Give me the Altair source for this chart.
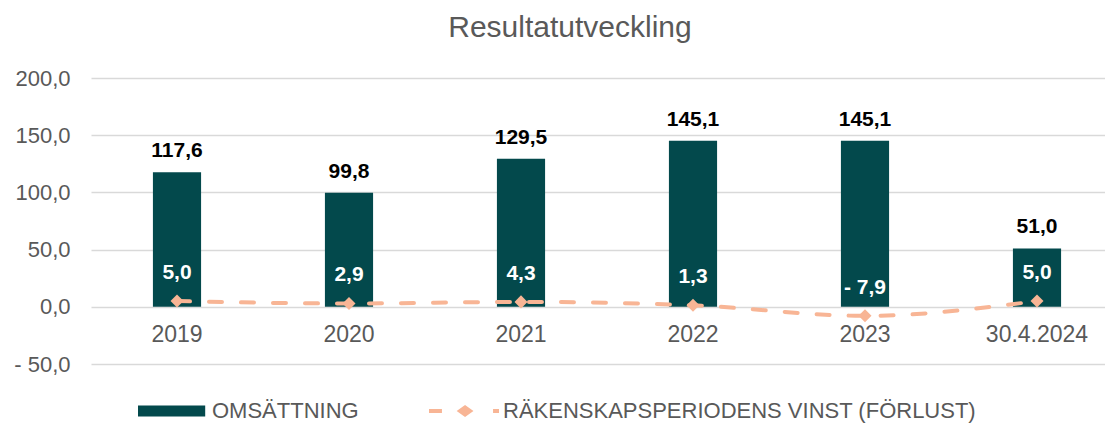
import altair as alt
import pandas as pd

# ---- data ----
years = ["2019", "2020", "2021", "2022", "2023", "30.4.2024"]
omsattning = [117.6, 99.8, 129.5, 145.1, 145.1, 51.0]
vinst = [5.0, 2.9, 4.3, 1.3, -7.9, 5.0]
series = ["OMSÄTTNING", "RÄKENSKAPSPERIODENS VINST (FÖRLUST)"]
y_ticks = [-50, 0, 50, 100, 150, 200]
y_domain = [-50, 200]

df = pd.DataFrame({"year": years, "oms": omsattning, "vinst": vinst})
legend_df = pd.DataFrame({"series": series})

TEAL = "#03494C"
PEACH = "#F8B595"
GREY = "#595959"
FONT = "Liberation Sans"


def fmt(f):
    return f"(({f}) < 0 ? '- ' : '') + replace(format(abs({f}), '.1f'), '.', ',')"


x = alt.X(
    "year:N",
    sort=years,
    scale=alt.Scale(range=[0, 1032], paddingInner=0.72, paddingOuter=0.36),
    axis=alt.Axis(
        title=None, domain=False, ticks=False, grid=False, labelAngle=0,
        labelFontSize=23, labelColor=GREY, labelPadding=16, offset=-57,
        labelFont=FONT,
    ),
)
yscale = alt.Scale(domain=y_domain, nice=False, zero=False)
yaxis = alt.Axis(
    title=None, values=y_ticks, domain=False, ticks=False,
    labelExpr=fmt("datum.value"), labelFontSize=22, labelColor=GREY,
    labelPadding=21, gridColor="#D9D9D9", gridWidth=1.5, labelFont=FONT,
)

base = alt.Chart(df).transform_calculate(
    oms_lbl=fmt("datum.oms"), vinst_lbl=fmt("datum.vinst")
)

bars = base.mark_bar(color=TEAL).encode(
    x=x, y=alt.Y("oms:Q", scale=yscale, axis=yaxis)
)
bar_labels = base.mark_text(
    fontWeight="bold", fontSize=21, color="#000000", baseline="alphabetic",
    dy=-15, font=FONT,
).encode(x=x, y=alt.Y("oms:Q", scale=yscale), text="oms_lbl:N")

line = base.mark_line(
    color=PEACH, strokeWidth=4, strokeDash=[13, 19], strokeCap="round",
    interpolate="monotone",
).encode(x=x, y=alt.Y("vinst:Q", scale=yscale))
points = base.mark_point(
    shape="diamond", filled=True, size=170, color=PEACH, opacity=1
).encode(x=x, y=alt.Y("vinst:Q", scale=yscale))
vinst_labels = base.mark_text(
    fontWeight="bold", fontSize=21, color="#FFFFFF", baseline="alphabetic",
    dy=-22, font=FONT,
).encode(x=x, y=alt.Y("vinst:Q", scale=yscale), text="vinst_lbl:N")

RECT = "M-1,-0.157H0.92V0.157H-1Z"
LINE = ("M-1,-0.057H-0.63V0.057H-1Z "
        "M0.03,-0.17L0.27,0L0.03,0.17L-0.21,0Z "
        "M0.83,-0.057H1V0.057H0.83Z")

LEG = alt.Legend(
    title=None, orient="none", legendX=47, legendY=298, direction="horizontal",
    symbolSize=4900, symbolStrokeWidth=0, labelFontSize=22, labelColor=GREY,
    labelOffset=4, columnPadding=70, padding=0, labelFont=FONT, labelLimit=700,
)
legend_layer = (
    alt.Chart(legend_df)
    .transform_filter("datum.series == 'none'")
    .mark_point(filled=True, opacity=1)
    .encode(
        color=alt.Color("series:N", scale=alt.Scale(domain=series, range=[TEAL, PEACH]), legend=LEG),
        shape=alt.Shape("series:N", scale=alt.Scale(domain=series, range=[RECT, LINE]), legend=LEG),
    )
)

chart = (
    alt.layer(bars, bar_labels, line, points, vinst_labels, legend_layer)
    .properties(
        width=1014,
        height=286,
        title=alt.Title(
            "Resultatutveckling", fontSize=30, font=FONT, fontWeight="normal",
            color=GREY, anchor="middle", frame="group", dx=-28, offset=24,
        ),
        autosize=alt.AutoSizeParams(type="none"),
        padding={"left": 83, "top": 70, "right": 0, "bottom": 60},
    )
    .configure(font=FONT)
    .configure_view(stroke=None)
)

chart.save("out.html", embed_options={"renderer": "svg", "actions": False})
